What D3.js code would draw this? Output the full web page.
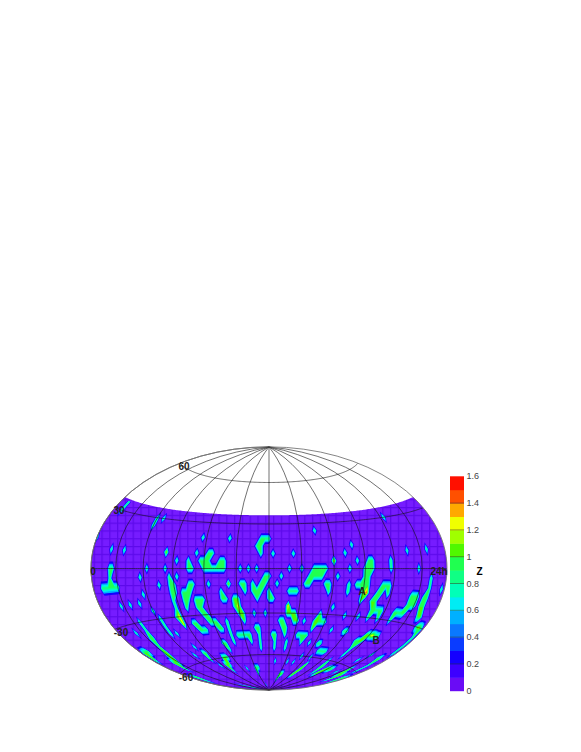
<!DOCTYPE html>
<html>
<head>
<meta charset="utf-8">
<script src="https://cdn.jsdelivr.net/npm/d3@7"></script>
<style>
  body { margin: 0; background: #fff; }
  text { font-family: "Liberation Sans", sans-serif; }
</style>
</head>
<body>
<svg id="chart" width="581" height="752"></svg>
<script>
// Z on a grid of RA (quarter hours) by declination (5 degree rows), top row first.
// Each row lists grid columns that are not 0: "12" or "12-15", Z is 0.9 unless a letter follows (a = 1.0, b = 1.1 ...)
var raHours = d3.range(0, 24.25, 0.25);
var decDegrees = d3.range(35, -95, -5);
var zRuns = [
  "3",
  "3 16 18 81",
  "16 60",
  "31 38 46-48",
  "0 45-46 69",
  "6 10 22c 30 33-34 46 49 54 67 84 90",
  "25 28 31-33 36-37 64d 70 73-74 79",
  "6-7 17 22 28-29 32-37 41 43 45 53 56 59-62 68 72-74 79 87",
  "6 15 23 25 47-48 51 58-61 65 72-73 91",
  "3-8 20 23-24 28-29 33 38c 41-42 44 46-47 50 57-58 62-63 68 70-72 73a 77-79 91 95",
  "15 23-24 26-28 36 42 44-46 48 53-55 63 68 72a 73f 76-77 79 86-88 90-91",
  "7 10 13 23 26-27 29-31 36-37 39-40a 45 48-49 72a 75-76a 86-88 90-91a",
  "16 23 26 29-30 39 40d 53e 65 76a 77-79 83-86 91-92a",
  "10 17 22 23d 30-31 40-41a 44 47 53-55a 62a 69 73 76a 79 83 93 94c 95",
  "6 10 17 23d 26-27 31-33 36 41a 51-52 55-56a 58 61-62a 63-64 95",
  "9a 10 17 19 27-29 33-34 36 44-45 52-53 61a 67 71-72 79-80a 81d 82-83a 95",
  "1-3a 9a 36 38-42 45 49-50 53 57-60 77 78-79a 95",
  "1a 8-9a 21 32-33 36 42 45 50 54 59 62 65-66 78 88 92-93",
  "6-8a 18 22-23 33 45 50 54 67-70 78 86 93",
  "6a 22 28-30a 62 66 75 89a 93",
  "2-3 23 26-28a 51 57 60 67a 75-76 79-82a 86 89-91a 94-95",
  "2 26a 35 40-42 66-67a 76 78-79a 91a 95",
  "40 56-58a 65-66a",
  "11 56a",
  "11-12 42",
  ""
];

// Colour bar: one colour per 0.1 of Z, bottom to top
var bandColors = ["#6a0cf5", "#3d00ff", "#1400ff", "#0a3cff", "#0a78ff", "#00b0ff", "#00ecf4", "#00ffb8", "#10ff84", "#20ff50",
  "#50f800", "#a0ff00", "#f0ff00", "#ffa800", "#ff5000", "#ff1000"];
var barTicks = [0, 0.2, 0.4, 0.6, 0.8, 1, 1.2, 1.4, 1.6];
var mapLevels = [0.25, 0.45, 0.6, 0.7, 0.8, 0.9, 1, 1.1, 1.2, 1.3, 1.4];
var topDec = 36;

var mapLabels = ["60", "30", "0", "-30", "-60", "24h", "A", "B"];
var labelSpots = [[184, 466], [119, 510], [93, 571], [121, 632], [186, 677], [439, 571], [362, 591], [376, 640]];

var svg = d3.select("#chart");

// Turn the rows into a flat array for d3.contours
var zValues = [];
zRuns.forEach(function(line) {
  var row = raHours.map(function() { return 0; });
  line.split(" ").filter(Boolean).forEach(function(run) {
    var m = run.match(/^(\d+)(?:-(\d+))?([a-z]?)$/);
    var first = +m[1];
    var last = m[2] ? +m[2] : first;
    var z = m[3] ? 1 + (m[3].charCodeAt(0) - 97) / 10 : 0.9;
    for (var i = first; i <= last; i++) row[i] = z;
  });
  zValues = zValues.concat(row);
});

// Hammer projection stretched to the plot's flat ellipse
var yStretch = 121.5 / 88.9;
function hammerRaw(lambda, phi) {
  var d = Math.sqrt(1 + Math.cos(phi) * Math.cos(lambda / 2));
  return [2 * Math.SQRT2 * Math.cos(phi) * Math.sin(lambda / 2) / d, yStretch * Math.SQRT2 * Math.sin(phi) / d];
}
var projection = d3.geoProjection(hammerRaw).scale(178 / (2 * Math.SQRT2)).translate([269, 568.5]).precision(0.2);
var geoPath = d3.geoPath(projection);
var raToLon = d3.scaleLinear().domain([0, 24]).range([-180, 180]);

// Area covered by the survey
var covered = [];
d3.range(0, 24.1, 0.1).forEach(function(h) { covered.push([raToLon(h), topDec]); });
d3.range(topDec, -90.5, -1).forEach(function(d) { covered.push([180, d]); });
d3.range(-90, topDec + 1, 1).forEach(function(d) { covered.push([-180, d]); });
var coveredPath = d3.line()(covered.map(projection)) + "Z";

// Faint square lattice seen in the flat purple
var pattern = svg.append("defs").append("pattern").attr("id", "lattice").attr("patternUnits", "userSpaceOnUse")
  .attr("width", 7.8).attr("height", 7.8);
pattern.append("rect").attr("width", 7.8).attr("height", 7.8).attr("fill", "#761cff");
pattern.append("path").attr("d", "M0 0H7.8M0 0V7.8").attr("stroke", "#5000e0").attr("stroke-width", 2.6).attr("opacity", 0.65);
svg.append("path").attr("d", coveredPath).attr("fill", "url(#lattice)");

// Filled contours, mapped from grid cells to the sphere
var contours = d3.contours().size([raHours.length, decDegrees.length]).thresholds(mapLevels)(zValues);
var colToRa = d3.scaleLinear().domain([0, raHours.length - 1]).range([0, 24]);
var rowToDec = d3.scaleLinear().domain([0, decDegrees.length - 1]).range([35, -90]);
var cellPath = d3.geoPath(d3.geoTransform({
  point: function(x, y) {
    var col = Math.min(Math.max(x - 0.5, 0), raHours.length - 1);
    var row = Math.min(Math.max(y - 0.5, 0), decDegrees.length - 1);
    var p = projection([raToLon(colToRa(col)), rowToDec(row)]);
    this.stream.point(p[0], p[1]);
  }
}));
var bandColor = d3.scaleQuantize().domain([0, 1.6]).range(bandColors);
svg.append("g").selectAll("path").data(contours).enter().append("path")
  .attr("d", cellPath)
  .attr("fill", function(d) { return bandColor(d.value + 0.05); });

// Graticule every 2h and 30 degrees
var graticule = d3.geoGraticule().step([30, 30]).stepMinor([30, 30]).extent([[-180, -90], [180, 90.01]]).precision(2);
svg.append("path").datum(graticule()).attr("d", geoPath)
  .attr("fill", "none").attr("stroke", "#111").attr("stroke-width", 0.6);
svg.append("path").datum({type: "Sphere"}).attr("d", geoPath)
  .attr("fill", "none").attr("stroke", "#777").attr("stroke-width", 0.9);

// Labels on the map
var labelGroup = svg.append("g").attr("font-size", 10).attr("font-weight", "bold").attr("fill", "#222");
mapLabels.forEach(function(t, i) {
  labelGroup.append("text").attr("x", labelSpots[i][0]).attr("y", labelSpots[i][1])
    .attr("dy", "0.35em").attr("text-anchor", "middle").text(t);
});

// Colour bar
var barScale = d3.scaleLinear().domain([0, 1.6]).range([690.7, 476.3]);
var bar = svg.append("g");
bandColors.forEach(function(c, i) {
  bar.append("rect").attr("x", 450).attr("width", 14)
    .attr("y", barScale((i + 1) / 10)).attr("height", barScale(i / 10) - barScale((i + 1) / 10) + 0.5)
    .attr("fill", c);
});
barTicks.forEach(function(t) {
  if (t > 0 && t < 1.6) {
    bar.append("line").attr("x1", 450).attr("x2", 464).attr("y1", barScale(t)).attr("y2", barScale(t))
      .attr("stroke", "#333").attr("stroke-width", 0.7).attr("opacity", 0.7);
  }
  bar.append("text").attr("x", 466.5).attr("y", barScale(t)).attr("dy", "0.35em")
    .attr("font-size", 9).attr("fill", "#444").text(t);
});
svg.append("text").attr("x", 479.5).attr("y", 571).attr("dy", "0.35em").attr("text-anchor", "middle")
  .attr("font-size", 10).attr("font-weight", "bold").text("Z");
</script>
</body>
</html>
